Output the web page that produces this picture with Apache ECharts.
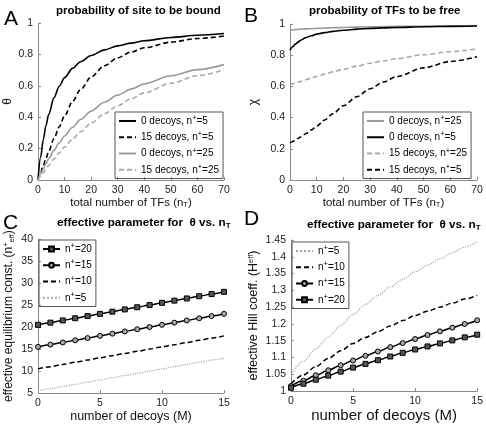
<!DOCTYPE html>
<html><head><meta charset="utf-8">
<script src="https://cdn.jsdelivr.net/npm/echarts@6/dist/echarts.min.js"></script>
<style>html,body{margin:0;padding:0;background:#fff}#c{width:486px;height:424px}</style>
</head><body><div id="c"></div>
<script>
// ---- data ----
const nT = [0,1,2,3,4,6,8,10,13,16,20,25,30,35,40,50,60,70];
// panel A: probability of site to be bound
const thetaD0n5   = [0,0.146,0.258,0.347,0.417,0.523,0.597,0.652,0.711,0.753,0.793,0.829,0.854,0.872,0.887,0.908,0.922,0.933];
const thetaD15n5  = [0,0.047,0.093,0.138,0.181,0.263,0.339,0.409,0.500,0.576,0.656,0.728,0.778,0.815,0.842,0.878,0.901,0.917];
const thetaD0n25  = [0,0.037,0.072,0.104,0.134,0.189,0.237,0.280,0.336,0.385,0.439,0.495,0.541,0.579,0.612,0.664,0.703,0.735];
const thetaD15n25 = [0,0.024,0.047,0.070,0.092,0.134,0.173,0.210,0.261,0.307,0.362,0.422,0.473,0.517,0.555,0.616,0.664,0.702];
// panel B: probability of TFs to be free
const chiD0n25  = [0.962,0.963,0.964,0.965,0.967,0.969,0.970,0.972,0.974,0.976,0.978,0.980,0.982,0.983,0.985,0.987,0.988,0.990];
const chiD0n5   = [0.833,0.854,0.871,0.884,0.896,0.913,0.925,0.935,0.945,0.953,0.960,0.967,0.972,0.975,0.978,0.982,0.985,0.987];
const chiD15n25 = [0.610,0.616,0.621,0.627,0.632,0.643,0.654,0.664,0.679,0.693,0.710,0.730,0.748,0.764,0.778,0.803,0.823,0.840];
const chiD15n5  = [0.238,0.247,0.256,0.266,0.276,0.298,0.321,0.346,0.385,0.424,0.476,0.534,0.585,0.628,0.663,0.719,0.760,0.790];
// panels C, D: number of decoys
const decoys = [0,1,2,3,4,5,6,7,8,9,10,11,12,13,14,15];
const neff20 = [20.5,21,21.5,22,22.5,23,23.5,24,24.5,25,25.5,26,26.5,27,27.5,28];
const neff15 = [15.5,16,16.5,17,17.5,18,18.5,19,19.5,20,20.5,21,21.5,22,22.5,23];
const neff10 = [10.5,11,11.5,12,12.5,13,13.5,14,14.5,15,15.5,16,16.5,17,17.5,18];
const neff5  = [5.5,6,6.5,7,7.5,8,8.5,9,9.5,10,10.5,11,11.5,12,12.5,12.9];
const hill5  = [1.05,1.089,1.126,1.161,1.195,1.228,1.258,1.285,1.31,1.333,1.355,1.375,1.394,1.412,1.429,1.445];
const hill10 = [1.022,1.048,1.073,1.097,1.12,1.142,1.16,1.177,1.194,1.21,1.225,1.238,1.25,1.262,1.274,1.285];
const hill15 = [1.015,1.031,1.047,1.062,1.077,1.091,1.105,1.118,1.131,1.143,1.155,1.167,1.178,1.189,1.2,1.211];
const hill20 = [1.01,1.022,1.034,1.046,1.058,1.07,1.081,1.092,1.103,1.114,1.124,1.133,1.142,1.151,1.16,1.168];

const FONT = '"Liberation Sans", Arial, Helvetica, sans-serif';
const rich = {
  sup: {fontSize: 7.5, fontFamily: FONT, padding: [0,0,6,0]},
  sub: {fontSize: 7.5, fontFamily: FONT, padding: [5,0,0,0]}
};
const pair = (xs, ys) => xs.map((x,i) => [x, ys[i]]);
const BLACK = '#000', GRAY = '#9a9a9a', LGRAY = '#a8a8a8';

function xAx(g, min, max, interval, name, fs, gap) {
  return {type:'value', gridIndex:g, min, max, interval,
    name, nameLocation:'middle', nameGap:gap,
    nameTextStyle:{fontSize:fs, color:'#111', fontFamily:FONT, rich},
    axisLine:{lineStyle:{color:'#8a8a8a', width:1}},
    axisTick:{inside:true, length:3, lineStyle:{color:'#8a8a8a'}},
    axisLabel:{fontSize:10.5, color:'#222', fontFamily:FONT, margin:5},
    splitLine:{show:false}};
}
function yAx(g, min, max, interval, name, fs, gap) {
  return {type:'value', gridIndex:g, min, max, interval,
    name, nameLocation:'middle', nameGap:gap, nameRotate:90,
    nameTextStyle:{fontSize:fs, color:'#111', fontFamily:FONT, rich},
    axisLine:{show:true, lineStyle:{color:'#8a8a8a', width:1}},
    axisTick:{show:true, inside:true, length:3, lineStyle:{color:'#8a8a8a'}},
    axisLabel:{fontSize:10.5, color:'#222', fontFamily:FONT, margin:5},
    splitLine:{show:false}};
}
function line(name, g, data, color, type, width, extra) {
  return Object.assign({type:'line', name, xAxisIndex:g, yAxisIndex:g, data,
    showSymbol:false, symbol:'none', smooth:0.3, smoothMonotone:'x',
    lineStyle:{color, type, width}, itemStyle:{color}}, extra||{});
}
function legend(names, marked, left, top) {
  return {data:names.map(n => marked.includes(n) ? {name:n} : {name:n, itemStyle:{opacity:0}}),
    orient:'vertical', left, top,
    borderColor:'#555', borderWidth:1, padding:[2,4,2,3], itemGap:2.5,
    itemWidth:17, itemHeight:6, selectedMode:false,
    textStyle:{fontSize:10, color:'#000', fontFamily:FONT, lineHeight:13.5, rich},
    formatter: n => n.replace('n+', 'n{sup|+}')};
}
function ttl(text, left, top, fs, bold) {
  return {text, left, top, padding:0,
    textStyle:{fontSize:fs, fontWeight:bold?'bold':'normal', color:'#000', fontFamily:FONT,
      rich:{sub:{fontSize:8, fontWeight:'bold', fontFamily:FONT, padding:[6,0,0,0]}}}};
}

const sq = {symbol:'rect', symbolSize:5, showSymbol:true};
const ci = {symbol:'circle', symbolSize:5, showSymbol:true};

const option = {
  animation:false,
  backgroundColor:'#fff',
  title:[
    ttl('A', 4, 9, 21, false), ttl('B', 244, 6, 21, false),
    ttl('C', 3, 213, 21, false), ttl('D', 244, 209, 21, false),
    ttl('probability of site to be bound', 56, 5, 11.5, true),
    ttl('probability of TFs to be free', 309, 5, 11.5, true),
    ttl('effective parameter for  θ vs. n{sub|T}', 57, 216, 11.7, true),
    ttl('effective parameter for  θ vs. n{sub|T}', 307, 218, 11.7, true)
  ],
  grid:[
    {left:38, top:23, width:186, height:157},
    {left:290, top:24, width:187, height:156},
    {left:38, top:239, width:186, height:156.5},
    {left:291, top:240, width:187, height:156.5}
  ],
  xAxis:[
    xAx(0,0,70,10,'total number of TFs (n{sub|T})',11.5,14),
    xAx(1,0,70,10,'total number of TFs (n{sub|T})',11.5,14),
    xAx(2,0,15,5,'number of decoys (M)',12.5,14),
    xAx(3,0,15,5,'number of decoys (M)',15,13)
  ],
  yAxis:[
    yAx(0,0,1,0.2,'θ',12,24),
    yAx(1,0,1,0.2,'χ',12,30),
    yAx(2,5,40,5,'effective equilibrium const. (n{sup|+}{sub|eff})',12,22),
    yAx(3,1,1.45,0.05,'effective Hill coeff. (H{sup|eff})',12.5,30)
  ],
  legend:[
    legend(['0 decoys, n+=5','15 decoys, n+=5','0 decoys, n+=25','15 decoys, n+=25'],[],115,112),
    legend(['0 decoys, n+=25','0 decoys, n+=5','15 decoys, n+=25','15 decoys, n+=5'],[],363,112),
    legend(['n+=20','n+=15','n+=10','n+=5'],['n+=20','n+=15'],39,240),
    legend(['n+=5','n+=10','n+=15','n+=20'],['n+=20','n+=15'],292,242)
  ],
  series:[
    line('0 decoys, n+=5',0,pair(nT,thetaD0n5),BLACK,'solid',1.6),
    line('15 decoys, n+=5',0,pair(nT,thetaD15n5),BLACK,[5,3],1.6),
    line('0 decoys, n+=25',0,pair(nT,thetaD0n25),GRAY,'solid',1.6),
    line('15 decoys, n+=25',0,pair(nT,thetaD15n25),LGRAY,[5,3],1.6),

    line('0 decoys, n+=25',1,pair(nT,chiD0n25),GRAY,'solid',1.6),
    line('0 decoys, n+=5',1,pair(nT,chiD0n5),BLACK,'solid',1.6),
    line('15 decoys, n+=25',1,pair(nT,chiD15n25),LGRAY,[5,3],1.6),
    line('15 decoys, n+=5',1,pair(nT,chiD15n5),BLACK,[5,3],1.6),

    line('n+=20',2,pair(decoys,neff20),BLACK,'solid',1.5,Object.assign({itemStyle:{color:'#555',borderColor:'#000',borderWidth:1}},sq)),
    line('n+=15',2,pair(decoys,neff15),BLACK,'solid',1.5,Object.assign({itemStyle:{color:'#aaa',borderColor:'#000',borderWidth:1}},ci)),
    line('n+=10',2,pair(decoys,neff10),BLACK,[5,3],1.5),
    line('n+=5',2,pair(decoys,neff5),LGRAY,'dotted',1.2),

    line('n+=5',3,pair(decoys,hill5),LGRAY,'dotted',1.2),
    line('n+=10',3,pair(decoys,hill10),BLACK,[5,3],1.5),
    line('n+=15',3,pair(decoys,hill15),BLACK,'solid',1.5,Object.assign({itemStyle:{color:'#aaa',borderColor:'#000',borderWidth:1}},ci)),
    line('n+=20',3,pair(decoys,hill20),BLACK,'solid',1.5,Object.assign({itemStyle:{color:'#555',borderColor:'#000',borderWidth:1}},sq))
  ]
};
const chart = echarts.init(document.getElementById('c'), null, {renderer:'canvas'});
chart.setOption(option);
</script></body></html>
